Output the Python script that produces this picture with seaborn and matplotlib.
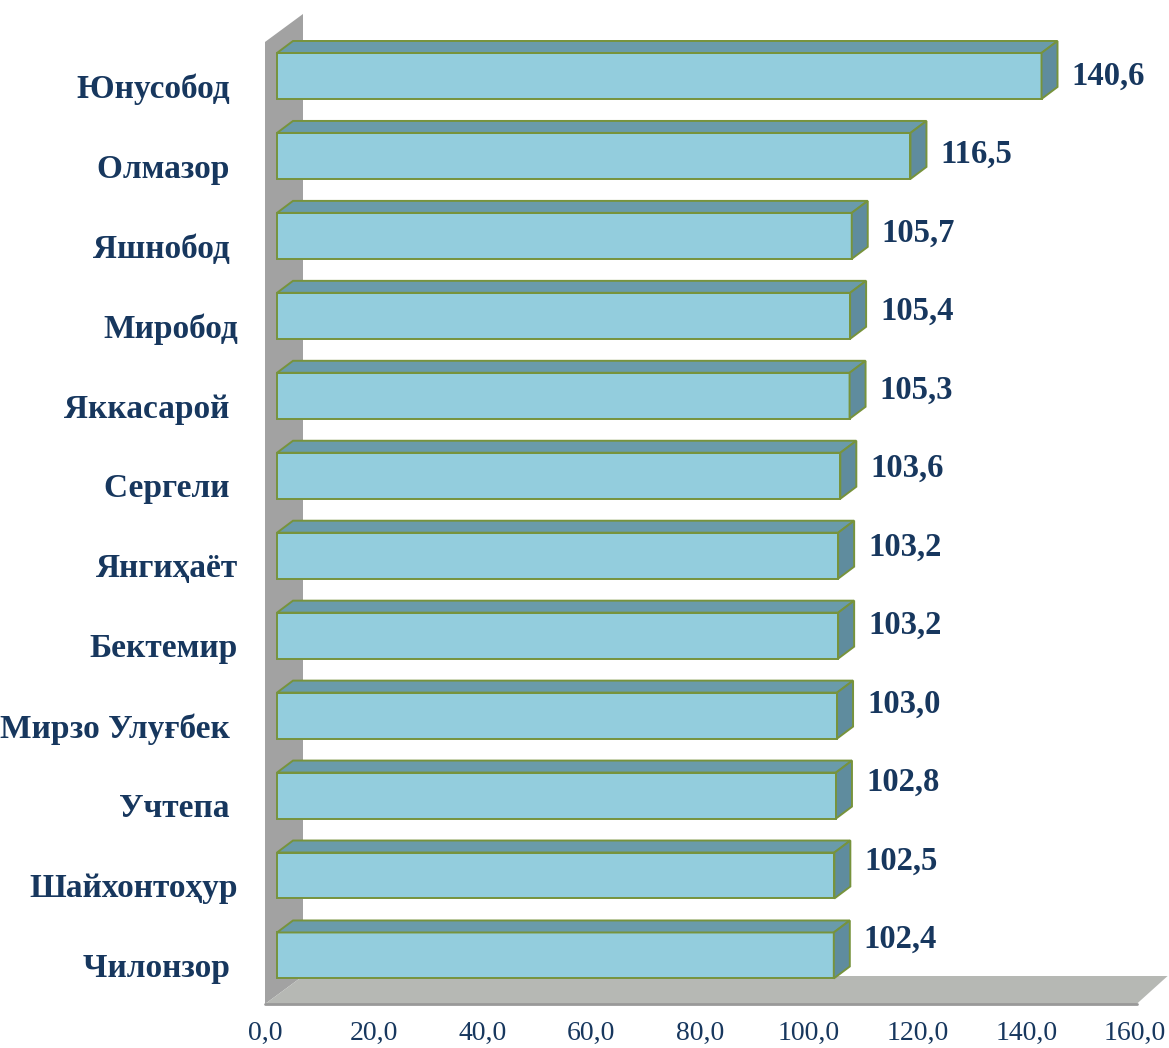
import matplotlib
matplotlib.use("Agg")
import matplotlib.pyplot as plt
from matplotlib.patches import Polygon
from matplotlib.transforms import ScaledTranslation
import seaborn as sns
import pandas as pd

# ---- data ----
districts = ["Юнусобод ", "Олмазор ", "Яшнобод ", "Миробод", "Яккасарой ", "Сергели ",
             "Янгиҳаёт", "Бектемир", "Мирзо Улуғбек ", "Учтепа ", "Шайхонтоҳур", "Чилонзор "]
values = [140.6, 116.5, 105.7, 105.4, 105.3, 103.6, 103.2, 103.2, 103.0, 102.8, 102.5, 102.4]
xticks = [0, 20, 40, 60, 80, 100, 120, 140, 160]
xtick_labels = ["0,0", "20,0", "40,0", "60,0", "80,0", "100,0", "120,0", "140,0", "160,0"]

# ---- style ----
sns.set_style("white")
plt.rcParams["font.family"] = ["Liberation Serif", "DejaVu Serif"]

NAVY = "#17375E"
FRONT = "#93CDDD"
TOP = "#6A9BAA"
SIDE = "#5F8C9E"
EDGE = "#77933C"
WALL = "#A2A2A2"
FLOOR = "#B6B8B4"

PX_X = 870 / 160.0          # pixels per value unit
PX_Y = 79.95                # pixels per category
BAR_OFF = 12 / PX_X         # front face of bars sits behind the axis front plane
BDX, BDY = 16 / PX_X, 12 / PX_Y   # bar depth
WDX, WDY = 38 / PX_X, 28 / PX_Y   # wall/floor depth
FLOOR_DX = 31 / PX_X
Y_BOTTOM, Y_TOP = 11.607, -0.775
WALL_TOP = -0.425

df = pd.DataFrame({"district": districts, "value": values})

fig = plt.figure(figsize=(11.69, 10.48), dpi=100)
ax = fig.add_axes([265 / 1169, 44 / 1048, 870 / 1169, 990 / 1048])

sns.barplot(data=df, x="value", y="district", orient="h", width=0.575,
            color=FRONT, saturation=1, edgecolor=EDGE, linewidth=1.4, ax=ax, zorder=3)

ax.set_xlim(0, 160)
ax.set_ylim(Y_BOTTOM, Y_TOP)

# back wall and floor
wall = Polygon([(0, Y_BOTTOM), (0, WALL_TOP), (WDX, WALL_TOP - WDY), (WDX, Y_BOTTOM - WDY)],
               closed=True, facecolor=WALL, edgecolor="none", zorder=1, clip_on=False)
floor = Polygon([(0, Y_BOTTOM), (160 + 0.3, Y_BOTTOM), (160 + 0.3 + FLOOR_DX, Y_BOTTOM - WDY),
                 (WDX, Y_BOTTOM - WDY)],
                closed=True, facecolor=FLOOR, edgecolor="none", zorder=1.5, clip_on=False)
ax.add_patch(wall)
ax.add_patch(floor)
ax.plot([0, 160.3], [Y_BOTTOM, Y_BOTTOM], color="#999999", lw=2, zorder=1.6, clip_on=False)

# 3D faces and value labels
bars = [p for p in ax.patches if p not in (wall, floor)]
for i, (p, v) in enumerate(zip(bars, values)):
    p.set_x(p.get_x() + BAR_OFF)
    x0 = p.get_x()
    x1 = x0 + p.get_width()
    ytop = p.get_y()
    ybot = ytop + p.get_height()
    top = Polygon([(x0, ytop), (x1, ytop), (x1 + BDX, ytop - BDY), (x0 + BDX, ytop - BDY)],
                  closed=True, facecolor=TOP, edgecolor=EDGE, lw=1.4, zorder=3, clip_on=False)
    side = Polygon([(x1, ytop), (x1, ybot), (x1 + BDX, ybot - BDY), (x1 + BDX, ytop - BDY)],
                   closed=True, facecolor=SIDE, edgecolor=EDGE, lw=1.4, zorder=3, clip_on=False)
    ax.add_patch(top)
    ax.add_patch(side)
    ax.text(x1 + BDX + 14 / PX_X, (ytop + ybot) / 2 - 0.018 * i,
            f"{v:.1f}".replace(".", ","), ha="left", va="center",
            fontsize=23.5, fontweight="bold", color=NAVY, zorder=5, clip_on=False)

for s in ax.spines.values():
    s.set_visible(False)
ax.set_xlabel("")
ax.set_ylabel("")
ax.set_xticks(xticks)
ax.set_xticklabels(xtick_labels)
ax.tick_params(axis="x", length=0, pad=12, labelsize=20, labelcolor=NAVY)
ax.tick_params(axis="y", length=0, pad=19.5, labelsize=24, labelcolor=NAVY)
shift_down = ScaledTranslation(0, -7 / 72, fig.dpi_scale_trans)
for tick in ax.yaxis.get_major_ticks():
    tick.label1.set_fontweight("bold")
    tick.label1.set_transform(tick.label1.get_transform() + shift_down)
ax.set_facecolor("white")

fig.savefig("out.png", dpi=100, facecolor="white")
